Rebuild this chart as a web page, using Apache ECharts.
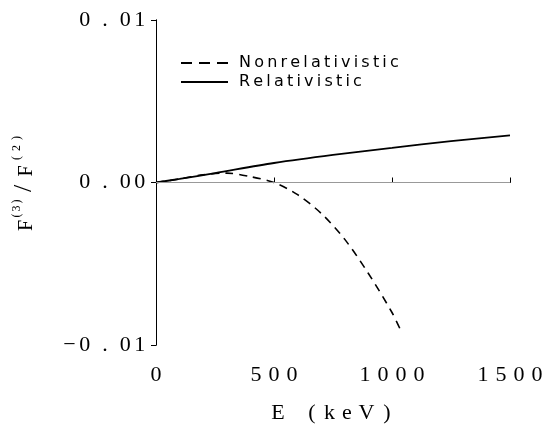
<!DOCTYPE html>
<html>
<head>
<meta charset="utf-8">
<script src="https://cdn.jsdelivr.net/npm/echarts@6/dist/echarts.min.js"></script>
<style>
  html, body { margin: 0; padding: 0; background: #fff; }
  #chart { width: 555px; height: 429px; }
</style>
</head>
<body>
<div id="chart"></div>
<script>
// data
var relE = [0, 100, 250, 500, 750, 1000, 1250, 1500];
var relF = [0, 0.00022, 0.00058, 0.0012, 0.0017, 0.00213, 0.00255, 0.0029];
var nonE = [0, 100, 200, 300, 400, 500, 600, 700, 800, 900, 1000, 1040];
var nonF = [0, 0.00022, 0.00048, 0.00058, 0.00036, 0.0, -0.00075, -0.0019, -0.0035, -0.0056, -0.0080, -0.0092];
var xTicks = ['0', '500', '1000', '1500'];
var yTicks = { '-0.01': '-0.01', '0': '0.00', '0.01': '0.01' };
var seriesNames = ['Nonrelativistic', 'Relativistic'];

var serif = '"Liberation Serif", "DejaVu Serif", serif';

// the printed figure uses very wide letter spacing, so each character
// gets its own rich-text box
function boxes(s) {
  return s.split('').map(function (c) {
    if (c === '-') return '{m|\u2212}';
    if (c === '.') return '{p|.}';
    return '{d|' + c + '}';
  }).join('');
}
function yLabel(v) {
  var s = yTicks[String(+v.toFixed(4))];
  return s ? boxes(s) : '';
}
function xLabel(v) {
  var i = xTicks.indexOf(String(v));
  return i < 0 ? '' : boxes(xTicks[i]);
}

function pairs(xs, ys) {
  return xs.map(function (x, i) { return [x, ys[i]]; });
}

var chart = echarts.init(document.getElementById('chart'));

chart.setOption({
  backgroundColor: '#fff',
  animation: false,
  grid: { left: 156, right: 45, top: 20, bottom: 76 },
  legend: {
    orient: 'vertical',
    left: 180,
    top: 54,
    padding: 0,
    itemWidth: 47,
    itemHeight: 10,
    itemGap: 1,
    itemStyle: { opacity: 0 },
    data: [
      { name: seriesNames[0], lineStyle: { type: [11, 7] } },
      { name: seriesNames[1] }
    ],
    formatter: function (n) { return n.split('').join('\u2009'); },
    textStyle: {
      fontFamily: '"DejaVu Sans", sans-serif', fontSize: 16, color: '#000',
      lineHeight: 18, padding: [0, 0, 0, 6]
    }
  },
  xAxis: [{
    type: 'value',
    min: 0, max: 1500, interval: 500,
    name: '{w18|E}{g| }{w18|(}{w17|k}{w18|e}{w21|V}{w20|)}',
    nameLocation: 'middle',
    nameGap: 57,
    nameTextStyle: {
      rich: {
        w18: { fontFamily: serif, fontSize: 22, color: '#000', width: 18, align: 'center' },
        w17: { fontFamily: serif, fontSize: 22, color: '#000', width: 17, align: 'center' },
        w20: { fontFamily: serif, fontSize: 22, color: '#000', width: 20, align: 'center' },
        w21: { fontFamily: serif, fontSize: 22, color: '#000', width: 21, align: 'center' },
        g: { fontFamily: serif, fontSize: 22, width: 16 }
      }
    },
    axisLine: { lineStyle: { color: '#000', width: 1 } },
    axisTick: { inside: true, length: 5, lineStyle: { color: '#000' } },
    axisLabel: {
      margin: 19,
      formatter: xLabel,
      rich: {
        d: { fontFamily: serif, fontSize: 22, color: '#000', width: 18, align: 'center' }
      }
    },
    splitLine: { show: false }
  }, {
    type: 'value', position: 'top', min: 0, max: 1500,
    axisLine: { lineStyle: { color: '#000', width: 1 } },
    axisTick: { show: false }, axisLabel: { show: false }, splitLine: { show: false }
  }],
  yAxis: [{
    type: 'value',
    min: -0.01, max: 0.01, interval: 0.01,
    name: '{F1|F}{s7|(}{s7|3}{s7|)}{sl|/}{F2|F}{s10|(}{s10|2}{s10|)}',
    nameLocation: 'middle',
    nameGap: 119,
    nameRotate: 90,
    nameTextStyle: {
      rich: {
        F1: { fontFamily: serif, fontSize: 20, color: '#000', width: 13, align: 'center', lineHeight: 20, verticalAlign: 'bottom' },
        F2: { fontFamily: serif, fontSize: 20, color: '#000', width: 16, align: 'center', lineHeight: 20, verticalAlign: 'bottom' },
        sl: { fontFamily: serif, fontSize: 26, color: '#000', width: 19, align: 'center', lineHeight: 26, verticalAlign: 'middle' },
        s7: { fontFamily: serif, fontSize: 12, color: '#000', width: 7, align: 'center', lineHeight: 12, verticalAlign: 'top' },
        s10: { fontFamily: serif, fontSize: 12, color: '#000', width: 10, align: 'center', lineHeight: 12, verticalAlign: 'top' }
      }
    },
    axisLine: { lineStyle: { color: '#000', width: 1 } },
    axisTick: { length: 5, lineStyle: { color: '#000' } },
    axisLabel: {
      margin: 9,
      formatter: yLabel,
      rich: {
        d: { fontFamily: serif, fontSize: 22, color: '#000', width: 14.5, align: 'center' },
        p: { fontFamily: serif, fontSize: 22, color: '#000', width: 26, align: 'center' },
        m: { fontFamily: serif, fontSize: 22, color: '#000', width: 16, align: 'center' }
      }
    },
    splitLine: { show: false }
  }, {
    type: 'value', position: 'right', min: -0.01, max: 0.01,
    axisLine: { show: true, lineStyle: { color: '#000', width: 1 } },
    axisTick: { show: false }, axisLabel: { show: false }, splitLine: { show: false }
  }],
  series: [{
    name: seriesNames[0],
    type: 'line',
    data: pairs(nonE, nonF),
    smooth: 0.3,
    showSymbol: false,
    symbol: 'none',
    color: '#000',
    lineStyle: { color: '#000', width: 1.6, type: [8, 6] }
  }, {
    name: seriesNames[1],
    type: 'line',
    data: pairs(relE, relF),
    smooth: 0.3,
    showSymbol: false,
    symbol: 'none',
    color: '#000',
    z: 3,
    lineStyle: { color: '#000', width: 1.8 },
    markLine: {
      silent: true,
      symbol: 'none',
      label: { show: false },
      lineStyle: { color: '#999', width: 1, type: 'solid' },
      data: [{ yAxis: 0 }]
    }
  }]
});
</script>
</body>
</html>
